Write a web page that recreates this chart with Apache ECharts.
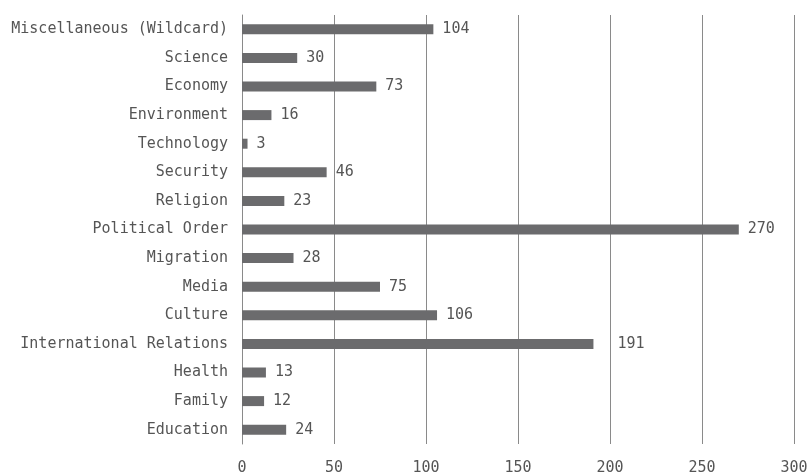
<!DOCTYPE html>
<html>
<head>
<meta charset="utf-8">
<script src="https://cdn.jsdelivr.net/npm/echarts@6/dist/echarts.min.js"></script>
<style>
html, body { margin: 0; padding: 0; background: #fff; }
#container { width: 810px; height: 475px; }
</style>
</head>
<body>
<div id="container"></div>
<script>
// categories, bottom to top
var categories = ['Education', 'Family', 'Health', 'International Relations', 'Culture', 'Media',
    'Migration', 'Political Order', 'Religion', 'Security', 'Technology', 'Environment',
    'Economy', 'Science', 'Miscellaneous (Wildcard)'];
var counts = [24, 12, 13, 191, 106, 75, 28, 270, 23, 46, 3, 16, 73, 30, 104];
var xTicks = [0, 50, 100, 150, 200, 250, 300];

var font = '"DejaVu Sans Mono", monospace';
var dom = document.getElementById('container');
var myChart = echarts.init(dom);

var option = {
    animation: false,
    grid: {left: 242, right: 16, top: 15, bottom: 31, containLabel: false, outerBoundsMode: 'none'},
    xAxis: {
        type: 'value',
        min: xTicks[0],
        max: xTicks[xTicks.length - 1],
        interval: 50,
        axisLine: {show: false},
        axisTick: {show: false},
        splitLine: {lineStyle: {color: '#8a8a8a', width: 1}},
        axisLabel: {color: '#555', fontSize: 15, fontFamily: font, margin: 17}
    },
    yAxis: {
        type: 'category',
        data: categories,
        axisLine: {show: true, lineStyle: {color: '#8a8a8a'}},
        axisTick: {show: false},
        axisLabel: {color: '#555', fontSize: 15, fontFamily: font, margin: 14}
    },
    series: [{
        type: 'bar',
        data: counts.map(function (v, i) {
            var item = {value: v};
            if (categories[i] === 'International Relations') {
                item.label = {distance: 24};
            }
            return item;
        }),
        barWidth: 10,
        itemStyle: {color: '#6b6b6d'},
        label: {
            show: true,
            position: 'right',
            distance: 9,
            color: '#555',
            fontSize: 15,
            fontFamily: font
        }
    }]
};
myChart.setOption(option, true);
</script>
</body>
</html>
